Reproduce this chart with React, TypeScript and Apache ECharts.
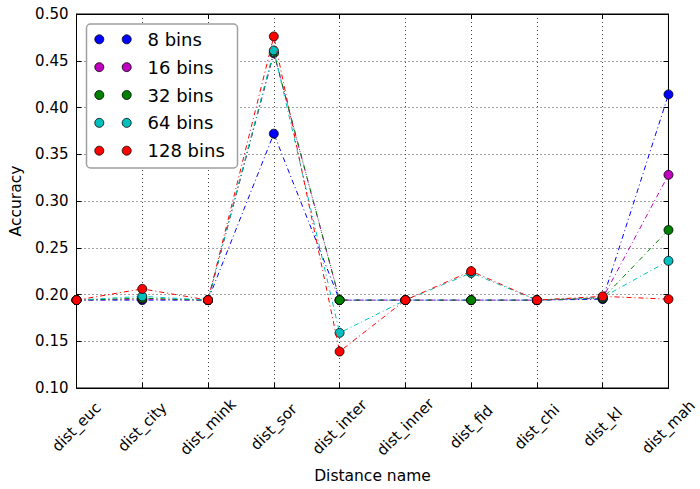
import React, { useEffect, useRef } from "react";
import * as echarts from "echarts";

const categories = ["dist_euc", "dist_city", "dist_mink", "dist_sor", "dist_inter", "dist_inner", "dist_fid", "dist_chi", "dist_kl", "dist_mah"];
const seriesNames = ["8 bins", "16 bins", "32 bins", "64 bins", "128 bins"];
const seriesColors = ["#0000ff", "#bf00bf", "#008000", "#00bfbf", "#ff0000"];
const bins8 = [0.194, 0.194, 0.194, 0.372, 0.194, 0.194, 0.194, 0.194, 0.195, 0.414];
const bins16 = [0.194, 0.195, 0.194, 0.458, 0.194, 0.194, 0.194, 0.194, 0.196, 0.328];
const bins32 = [0.194, 0.196, 0.194, 0.459, 0.194, 0.194, 0.194, 0.194, 0.196, 0.269];
const bins64 = [0.194, 0.198, 0.194, 0.461, 0.159, 0.194, 0.223, 0.194, 0.197, 0.236];
const bins128 = [0.194, 0.206, 0.194, 0.476, 0.139, 0.194, 0.225, 0.194, 0.198, 0.195];
const seriesData = [bins8, bins16, bins32, bins64, bins128];
const yMin = 0.1;
const yMax = 0.5;
const yStep = 0.05;

const FONT = "DejaVu Sans";

export default function App() {
  const ref = useRef<HTMLDivElement>(null);
  useEffect(() => {
    if (!ref.current) return;
    const chart = echarts.init(ref.current, undefined, { renderer: "svg" });
    const grid = { left: 76.5, right: 27, top: 14, bottom: 100 };

    const legendGraphics: any[] = [
      {
        type: "rect",
        shape: { x: 86.5, y: 24, width: 151, height: 144, r: 4 },
        style: { fill: "#ffffff", stroke: "#a0a0a0", lineWidth: 1.5 },
        z: 100,
      },
    ];
    seriesNames.forEach((name, i) => {
      const cy = 39.3 + i * 27.85;
      [99.3, 126.7].forEach((cx) => {
        legendGraphics.push({
          type: "circle",
          shape: { cx, cy, r: 4.5 },
          style: { fill: seriesColors[i], stroke: "#000", lineWidth: 0.8 },
          z: 101,
        });
      });
      legendGraphics.push({
        type: "text",
        x: 147.5,
        y: cy,
        style: { text: name, fontSize: 18, fontFamily: FONT, fill: "#000", verticalAlign: "middle", align: "left" },
        z: 101,
      });
    });

    chart.setOption({
      animation: false,
      backgroundColor: "#ffffff",
      textStyle: { fontFamily: FONT },
      grid: { ...grid, show: true, borderColor: "#000", borderWidth: 1, backgroundColor: "transparent" },
      xAxis: [
        {
          type: "category",
          data: categories,
          boundaryGap: false,
          name: "Distance name",
          nameLocation: "middle",
          nameGap: 80,
          nameTextStyle: { fontSize: 15.5, color: "#000", fontFamily: FONT },
          axisLine: { show: true, lineStyle: { color: "#000", width: 1 } },
          axisTick: { show: true, inside: true, length: 5, lineStyle: { color: "#000" } },
          axisLabel: {
            rotate: 45,
            align: "center",
            verticalAlign: "middle",
            margin: 39,
            fontSize: 15,
            color: "#000",
            fontFamily: FONT,
            interval: 0,
          },
          splitLine: { show: true, lineStyle: { color: "#444", type: [1, 3], width: 1 } },
        },
        {
          type: "category",
          data: categories,
          boundaryGap: false,
          position: "top",
          axisLine: { show: true, lineStyle: { color: "#000", width: 1 } },
          axisTick: { show: true, inside: true, length: 5, lineStyle: { color: "#000" } },
          axisLabel: { show: false },
          splitLine: { show: false },
        },
      ],
      yAxis: [
        {
          type: "value",
          min: yMin,
          max: yMax,
          interval: yStep,
          name: "Accuracy",
          nameLocation: "middle",
          nameGap: 50,
          nameTextStyle: { fontSize: 15.5, color: "#000", fontFamily: FONT },
          axisLine: { show: true, lineStyle: { color: "#000", width: 1 } },
          axisTick: { show: true, inside: true, length: 5, lineStyle: { color: "#000" } },
          axisLabel: {
            fontSize: 15,
            color: "#000",
            fontFamily: FONT,
            margin: 8,
            formatter: (v: number) => v.toFixed(2),
          },
          splitLine: { show: true, lineStyle: { color: "#444", type: [1, 3], width: 1 } },
        },
        {
          type: "value",
          min: yMin,
          max: yMax,
          interval: yStep,
          position: "right",
          axisLine: { show: true, lineStyle: { color: "#000", width: 1 } },
          axisTick: { show: true, inside: true, length: 5, lineStyle: { color: "#000" } },
          axisLabel: { show: false },
          splitLine: { show: false },
        },
      ],
      series: seriesNames.map((name, i) => ({
        name,
        type: "line",
        data: seriesData[i],
        xAxisIndex: 0,
        yAxisIndex: 0,
        symbol: "circle",
        symbolSize: 9,
        showAllSymbol: true,
        clip: true,
        lineStyle: { color: seriesColors[i], width: 1, type: [5, 3, 1, 3] },
        itemStyle: { color: seriesColors[i], borderColor: "#000", borderWidth: 0.8 },
        emphasis: { disabled: true },
        z: 2 + i,
      })),
      graphic: legendGraphics,
    });
    return () => chart.dispose();
  }, []);
  return <div ref={ref} style={{ width: 700, height: 489, position: "absolute", left: 0, top: 0 }} />;
}
